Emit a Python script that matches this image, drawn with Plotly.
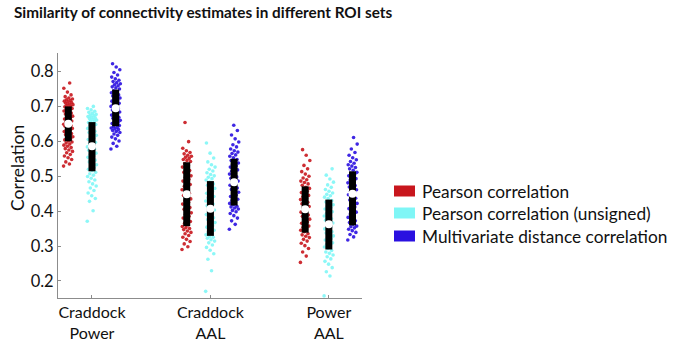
import plotly.graph_objects as go

groups = ["Craddock<br>Power", "Craddock<br>AAL", "Power<br>AAL"]
series_names = ["Pearson correlation", "Pearson correlation (unsigned)", "Multivariate distance correlation"]
series_colors = ["#c8161d", "#7ff6f6", "#2a10e0"]

# quartiles / medians: [group][series]
q1 = [[0.600, 0.514, 0.643], [0.357, 0.329, 0.416], [0.338, 0.290, 0.359]]
median = [[0.650, 0.586, 0.695], [0.448, 0.407, 0.483], [0.405, 0.362, 0.450]]
q3 = [[0.700, 0.655, 0.748], [0.540, 0.486, 0.550], [0.471, 0.433, 0.514]]

craddock_power_pearson = [
    0.529, 0.535, 0.541, 0.548, 0.553, 0.558, 0.562, 0.567, 0.571, 0.575, 0.579, 0.582, 0.586, 0.589, 0.592, 0.595, 0.598,
    0.601, 0.604, 0.607, 0.610, 0.613, 0.616, 0.619, 0.622, 0.625, 0.628, 0.631, 0.634, 0.637, 0.640, 0.643, 0.645, 0.647, 0.649,
    0.652, 0.655, 0.658, 0.661, 0.664, 0.667, 0.669, 0.672, 0.675, 0.678, 0.681, 0.684, 0.687, 0.690, 0.692, 0.694, 0.696, 0.699,
    0.701, 0.703, 0.705, 0.707, 0.709, 0.711, 0.713, 0.715, 0.717, 0.719, 0.721, 0.724, 0.728, 0.733, 0.741, 0.752, 0.767]
craddock_power_unsigned = [
    0.371, 0.401, 0.428, 0.436, 0.444, 0.452, 0.459, 0.466, 0.472, 0.478, 0.484, 0.489, 0.494, 0.499, 0.503, 0.507, 0.511,
    0.516, 0.520, 0.524, 0.529, 0.533, 0.537, 0.541, 0.546, 0.550, 0.554, 0.558, 0.562, 0.566, 0.570, 0.574, 0.578, 0.581, 0.584,
    0.589, 0.593, 0.597, 0.601, 0.605, 0.609, 0.613, 0.617, 0.621, 0.625, 0.629, 0.633, 0.637, 0.641, 0.645, 0.648, 0.651, 0.654,
    0.657, 0.659, 0.661, 0.663, 0.665, 0.667, 0.669, 0.671, 0.673, 0.675, 0.677, 0.680, 0.683, 0.686, 0.690, 0.694, 0.700]
craddock_power_mdc = [
    0.578, 0.586, 0.594, 0.601, 0.607, 0.612, 0.617, 0.621, 0.625, 0.628, 0.631, 0.634, 0.636, 0.638, 0.640, 0.642,
    0.645, 0.648, 0.651, 0.654, 0.657, 0.660, 0.663, 0.666, 0.669, 0.672, 0.675, 0.678, 0.681, 0.684, 0.687, 0.690, 0.693,
    0.697, 0.700, 0.703, 0.706, 0.709, 0.712, 0.715, 0.718, 0.721, 0.724, 0.727, 0.730, 0.733, 0.736, 0.739, 0.742, 0.745,
    0.750, 0.753, 0.756, 0.759, 0.762, 0.765, 0.768, 0.771, 0.775, 0.779, 0.784, 0.790, 0.797, 0.805, 0.813, 0.822]

craddock_aal_pearson = [
    0.290, 0.298, 0.306, 0.313, 0.319, 0.325, 0.330, 0.335, 0.339, 0.343, 0.347, 0.350, 0.353, 0.356,
    0.360, 0.365, 0.370, 0.375, 0.380, 0.385, 0.390, 0.395, 0.400, 0.405, 0.410, 0.415, 0.420, 0.425, 0.430, 0.435, 0.440, 0.445,
    0.451, 0.456, 0.461, 0.466, 0.471, 0.476, 0.481, 0.486, 0.491, 0.496, 0.501, 0.506, 0.511, 0.516, 0.521, 0.526, 0.531, 0.536,
    0.542, 0.545, 0.548, 0.551, 0.554, 0.557, 0.560, 0.564, 0.568, 0.573, 0.580, 0.599, 0.654]
craddock_aal_unsigned = [
    0.170, 0.229, 0.262, 0.278, 0.288, 0.296, 0.303, 0.309, 0.314, 0.318, 0.322, 0.325, 0.327,
    0.332, 0.336, 0.340, 0.345, 0.349, 0.354, 0.358, 0.363, 0.367, 0.372, 0.376, 0.381, 0.385, 0.390, 0.394, 0.399, 0.403,
    0.411, 0.415, 0.420, 0.424, 0.429, 0.433, 0.438, 0.442, 0.447, 0.451, 0.456, 0.460, 0.465, 0.469, 0.474, 0.478, 0.483,
    0.489, 0.493, 0.497, 0.501, 0.505, 0.510, 0.515, 0.520, 0.526, 0.533, 0.541, 0.552, 0.566, 0.595]
craddock_aal_mdc = [
    0.348, 0.362, 0.372, 0.380, 0.387, 0.393, 0.398, 0.402, 0.406, 0.409, 0.412, 0.414,
    0.418, 0.422, 0.426, 0.430, 0.434, 0.438, 0.442, 0.446, 0.450, 0.454, 0.458, 0.462, 0.466, 0.470, 0.474, 0.478, 0.481,
    0.486, 0.490, 0.494, 0.498, 0.502, 0.506, 0.510, 0.514, 0.518, 0.522, 0.526, 0.530, 0.534, 0.538, 0.542, 0.545, 0.548,
    0.553, 0.557, 0.561, 0.565, 0.569, 0.573, 0.578, 0.584, 0.590, 0.598, 0.607, 0.618, 0.631, 0.646]

power_aal_pearson = [
    0.253, 0.271, 0.283, 0.293, 0.301, 0.308, 0.314, 0.319, 0.324, 0.328, 0.332, 0.335,
    0.341, 0.345, 0.349, 0.353, 0.357, 0.361, 0.365, 0.369, 0.373, 0.377, 0.381, 0.385, 0.389, 0.393, 0.397, 0.401,
    0.409, 0.413, 0.417, 0.421, 0.425, 0.429, 0.433, 0.437, 0.441, 0.445, 0.449, 0.453, 0.457, 0.461, 0.465, 0.468,
    0.474, 0.478, 0.482, 0.486, 0.490, 0.495, 0.500, 0.506, 0.513, 0.521, 0.531, 0.545, 0.560, 0.576]
power_aal_unsigned = [
    0.157, 0.214, 0.226, 0.238, 0.248, 0.256, 0.263, 0.269, 0.274, 0.279, 0.283, 0.287,
    0.293, 0.297, 0.301, 0.305, 0.309, 0.313, 0.317, 0.321, 0.325, 0.329, 0.333, 0.337, 0.341, 0.345, 0.349, 0.353, 0.358,
    0.366, 0.370, 0.374, 0.378, 0.382, 0.386, 0.390, 0.394, 0.398, 0.402, 0.406, 0.410, 0.414, 0.418, 0.422, 0.426, 0.430,
    0.436, 0.440, 0.444, 0.448, 0.452, 0.457, 0.462, 0.468, 0.475, 0.483, 0.492, 0.503, 0.521]
power_aal_mdc = [
    0.317, 0.326, 0.333, 0.339, 0.344, 0.348, 0.352, 0.355, 0.357,
    0.362, 0.367, 0.372, 0.377, 0.382, 0.387, 0.392, 0.397, 0.402, 0.407, 0.412, 0.417, 0.422, 0.427, 0.432, 0.437, 0.442, 0.447,
    0.453, 0.457, 0.461, 0.465, 0.469, 0.473, 0.477, 0.481, 0.485, 0.489, 0.493, 0.497, 0.501, 0.505, 0.508, 0.511,
    0.517, 0.521, 0.525, 0.529, 0.533, 0.537, 0.542, 0.547, 0.553, 0.560, 0.568, 0.578, 0.592, 0.611]

values = [
    [craddock_power_pearson, craddock_power_unsigned, craddock_power_mdc],
    [craddock_aal_pearson, craddock_aal_unsigned, craddock_aal_mdc],
    [power_aal_pearson, power_aal_unsigned, power_aal_mdc],
]

yticks = [0.2, 0.3, 0.4, 0.5, 0.6, 0.7, 0.8]

# ---- layout geometry (pixels) ----
W, H = 673, 341
L, R, T, B = 58, 311, 53, 43
offsets = [-0.2, 0.0, 0.2]
jitter_half = 0.04

fig = go.Figure()

for gi in range(3):
    for si in range(3):
        ys = values[gi][si]
        xc = (gi + 1) + offsets[si]
        xs = [xc + (((k * 0.6180339887) % 1.0) - 0.5) * 2 * jitter_half for k in range(len(ys))]
        fig.add_trace(go.Scatter(
            x=xs, y=ys, mode="markers",
            marker=dict(size=3.6, color=series_colors[si], opacity=0.9, line=dict(width=0)),
            showlegend=False, hoverinfo="y"))

for gi in range(3):
    for si in range(3):
        xc = (gi + 1) + offsets[si]
        fig.add_trace(go.Scatter(
            x=[xc, xc], y=[q1[gi][si], q3[gi][si]], mode="lines",
            line=dict(color="black", width=7), showlegend=False, hoverinfo="skip"))
        fig.add_trace(go.Scatter(
            x=[xc], y=[median[gi][si]], mode="markers",
            marker=dict(size=8, color="white", line=dict(width=0)),
            showlegend=False, hoverinfo="y"))

def px_x(p):
    return (p - L) / (W - L - R)

def px_y(p):
    return (H - B - p) / (H - T - B)

shapes = []
annotations = []
legend_rows = [191, 213, 236]
for si, name in enumerate(series_names):
    cy = legend_rows[si]
    shapes.append(dict(type="rect", xref="paper", yref="paper",
                       x0=px_x(394), x1=px_x(415), y0=px_y(cy + 5.5), y1=px_y(cy - 5.5),
                       fillcolor=series_colors[si], line=dict(width=0)))
    annotations.append(dict(xref="paper", yref="paper", x=px_x(420), y=px_y(cy),
                            xanchor="left", yanchor="middle", showarrow=False,
                            text=name, font=dict(family="Lato", size=17.3, color="#111")))

# y-axis title placed as rotated text
annotations.append(dict(xref="paper", yref="paper", x=px_x(17), y=px_y(168),
                        xanchor="center", yanchor="middle", showarrow=False, textangle=-90,
                        text="Correlation", font=dict(family="Lato", size=17.5, color="#111")))
# chart title
annotations.append(dict(xref="paper", yref="paper", x=px_x(12), y=px_y(12),
                        xanchor="left", yanchor="middle", showarrow=False,
                        text="<b>Similarity of connectivity estimates in different ROI sets</b>",
                        font=dict(family="Lato", size=15.3, color="#111")))

fig.update_layout(
    width=W, height=H,
    margin=dict(l=L, r=R, t=T, b=B, pad=0),
    paper_bgcolor="white", plot_bgcolor="white",
    xaxis=dict(range=[0.713, 3.28], tickmode="array", tickvals=[1, 2, 3], ticktext=groups,
               automargin=False,
               showgrid=False, zeroline=False, showline=True, linecolor="#8c8c8c", linewidth=1,
               ticks="inside", ticklen=3, tickcolor="#8c8c8c",
               tickfont=dict(family="Lato", size=16, color="#111")),
    yaxis=dict(range=[0.151, 0.853], tickmode="array", tickvals=yticks,
               ticktext=[f"{v:.1f}" for v in yticks], automargin=False,
               showgrid=False, zeroline=False, showline=True, linecolor="#8c8c8c", linewidth=1,
               ticks="inside", ticklen=3, tickcolor="#8c8c8c",
               tickfont=dict(family="Lato", size=16.5, color="#111")),
    shapes=shapes, annotations=annotations,
    font=dict(family="Lato"),
)

fig.write_html("out.html", config={"displayModeBar": False},
               post_script="document.body.style.margin='0';document.body.style.overflow='hidden';")
